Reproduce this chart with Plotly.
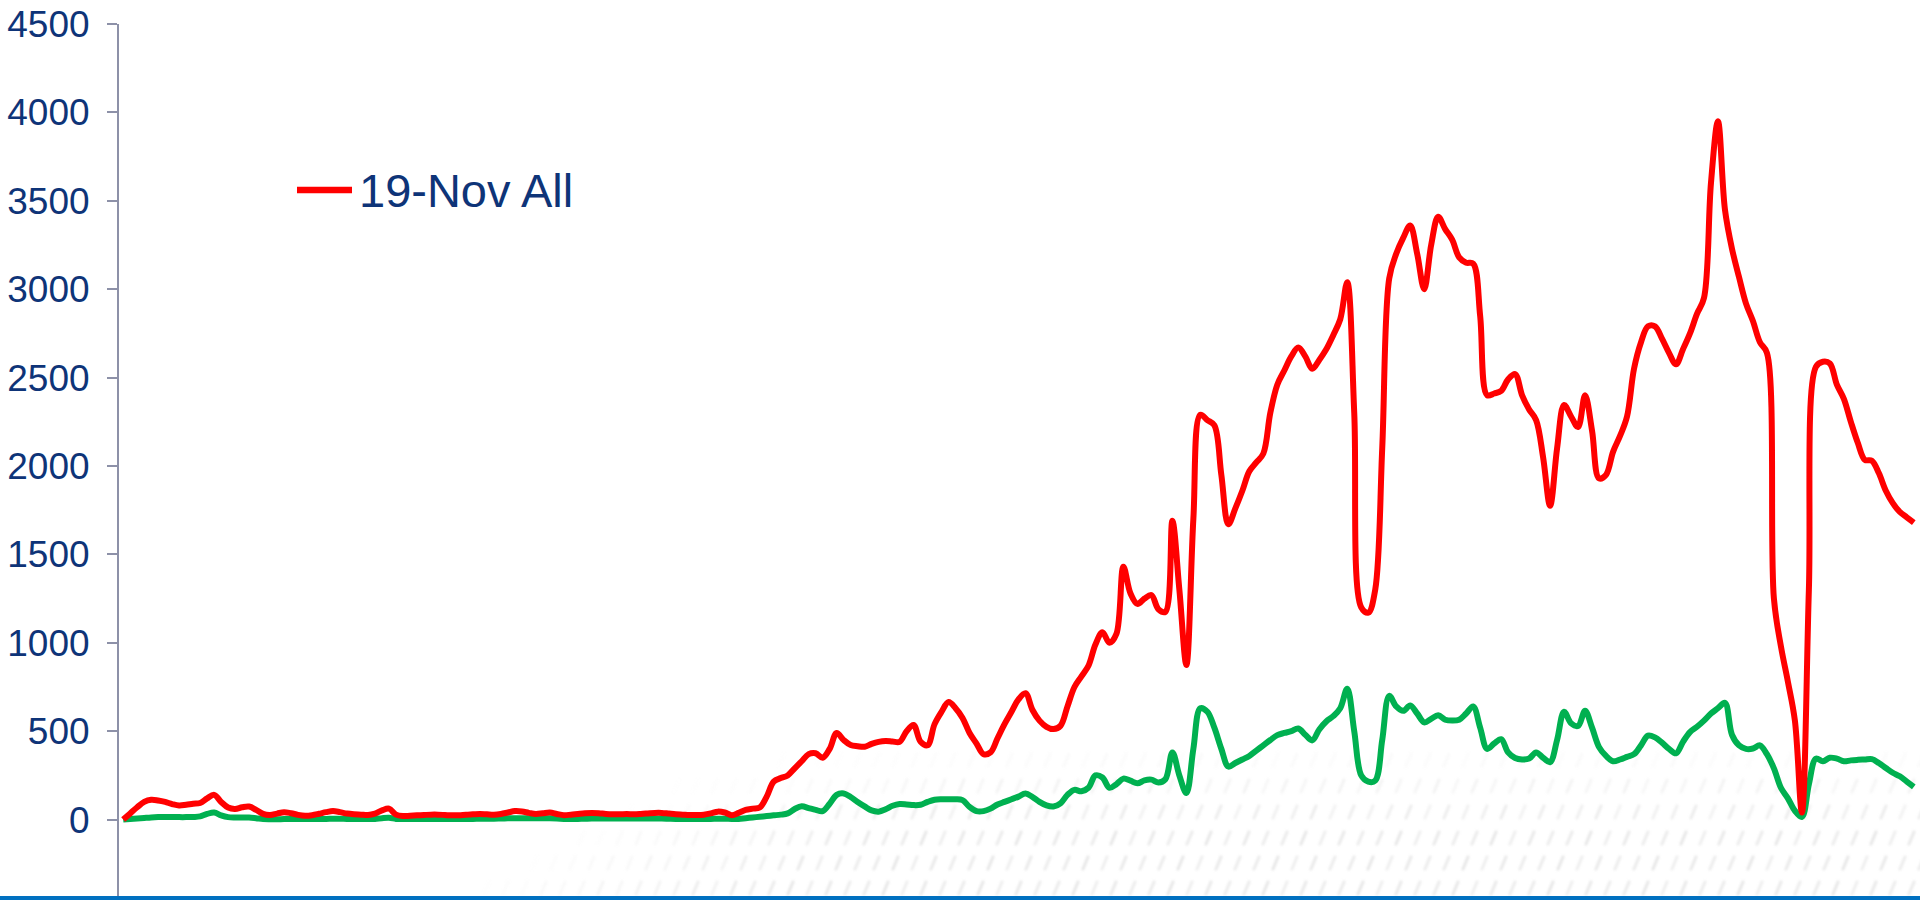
import base64
import plotly.graph_objects as go

# Daily counts, one value per day
red_all = [
    0, 35, 70, 100, 112, 108, 100, 88, 80, 84,
    90, 94, 120, 140, 100, 68, 60, 70, 74, 55,
    32, 26, 34, 42, 36, 27, 22, 25, 33, 42,
    48, 42, 34, 30, 28, 26, 34, 52, 62, 28,
    20, 22, 24, 26, 28, 28, 26, 24, 25, 28,
    30, 32, 30, 28, 32, 40, 48, 46, 38, 32,
    36, 40, 32, 25, 28, 32, 36, 38, 36, 32,
    30, 30, 31, 30, 32, 35, 38, 38, 34, 30,
    28, 26, 26, 28, 35, 45, 40, 25, 38, 55,
    62, 68, 130, 215, 235, 250, 290, 330, 370, 375,
    350, 400, 490, 450, 422, 415, 412, 428, 440, 445,
    442, 440, 500, 535, 440, 420, 540, 610, 665, 630,
    575, 490, 430, 370, 380, 460, 540, 610, 680, 715,
    620, 560, 525, 512, 530, 640, 750, 810, 870, 990,
    1060, 1000, 1050, 1430, 1280, 1220, 1250, 1270, 1190, 1175,
    1690, 1300, 875, 1700, 2290, 2260, 2230, 1950, 1670, 1760,
    1860, 1970, 2020, 2070, 2300, 2460, 2540, 2620, 2670, 2620,
    2550, 2600, 2660, 2740, 2830, 3040, 2300, 1200, 1170, 1300,
    2100, 3060, 3200, 3290, 3360, 3200, 3000, 3250, 3410, 3340,
    3280, 3180, 3150, 3145, 2850, 2400, 2410, 2425, 2490, 2520,
    2400, 2320, 2260, 2050, 1775, 2100, 2345, 2280, 2220, 2400,
    2200, 1930, 1950, 2080, 2170, 2280, 2550, 2700, 2790, 2790,
    2720, 2640, 2575, 2660, 2750, 2860, 2950, 3600, 3950, 3450,
    3230, 3070, 2920, 2820, 2700, 2640, 1250, 980, 780, 560,
    40, 1300, 2560, 2590, 2580, 2460, 2380, 2250, 2130, 2035,
    2030, 1960, 1860, 1790, 1740, 1710, 1680,
]

green_subset = [
    0, 3, 6, 9, 12, 14, 15, 15, 14, 14,
    15, 18, 32, 40, 24, 14, 12, 12, 12, 8,
    3, 2, 2, 3, 3, 3, 4, 4, 4, 4,
    5, 5, 4, 4, 3, 3, 4, 8, 10, 4,
    3, 3, 3, 3, 3, 4, 4, 4, 4, 4,
    4, 5, 5, 5, 6, 7, 8, 8, 7, 7,
    7, 7, 6, 4, 3, 4, 5, 6, 6, 6,
    6, 6, 6, 6, 6, 6, 6, 6, 5, 4,
    4, 4, 4, 4, 4, 5, 5, 4, 4, 8,
    12, 16, 20, 24, 28, 35, 60, 75, 65, 55,
    48, 90, 140, 148, 128, 100, 75, 52, 45, 58,
    78, 88, 86, 82, 84, 100, 112, 115, 115, 115,
    110, 72, 48, 48, 62, 85, 100, 115, 130, 148,
    128, 100, 80, 74, 92, 140, 168, 160, 180, 250,
    238, 180, 200, 232, 220, 205, 222, 226, 210, 228,
    380, 250, 150, 400, 630, 610, 520, 400, 300, 320,
    340, 360, 390, 420, 450, 478, 490, 500, 515, 480,
    448, 510, 555, 585, 630, 740, 500, 250, 215, 220,
    450, 700, 640, 615, 645, 600, 550, 570, 590, 565,
    560, 565, 600, 640, 520, 400, 430, 455, 380, 348,
    340, 345, 380, 350, 325, 450, 610, 545, 530, 615,
    520, 410, 360, 330, 340, 355, 370, 420, 475, 465,
    435, 400, 375, 440, 495, 525, 560, 600, 630, 660,
    480, 420, 400, 402, 420, 370, 290, 180, 120, 50,
    15, 200, 345, 330, 350, 345, 330, 335, 338, 340,
    342, 320, 292, 265, 245, 215, 185,
]

days = list(range(len(red_all)))
y_ticks = [0, 500, 1000, 1500, 2000, 2500, 3000, 3500, 4000, 4500]

NAVY = "#0E3478"
AXIS_GREY = "#8D91A8"
FONT = "Liberation Sans, Arial, sans-serif"

W, H = 1920, 900
L, R, T, B = 119, 2, 24, 0
plot_w = W - L - R
plot_h = H - T - B


def hatch_texture():
    """Faint slanted-dash backdrop along the lower right of the slide."""
    rows = [760, 786, 812, 838, 863, 888]
    marks = []
    for r, y in enumerate(rows):
        left = 430 + (900 - y) * 1.9
        vfade = min(1.0, max(0.0, (y - 740) / 90.0))
        x = 9 if r % 2 else 0
        k = 0
        while x < W:
            hfade = min(1.0, max(0.0, (x - left) / 320.0))
            # slight irregularity along each row
            jitter = (0.85, 1.0, 0.7, 0.95, 0.8)[(k + r) % 5]
            a = 0.5 * hfade * vfade * jitter
            if a > 0.02:
                marks.append(
                    f'<line x1="{x:.0f}" y1="{y + 6}" x2="{x + 5:.0f}" y2="{y - 6}" '
                    f'stroke="#d2d2d2" stroke-width="3.2" stroke-linecap="round" '
                    f'opacity="{a:.2f}"/>'
                )
            x += 19
            k += 1
    svg = (
        f'<svg xmlns="http://www.w3.org/2000/svg" width="{W}" height="{H}" '
        f'viewBox="0 0 {W} {H}"><defs><filter id="b"><feGaussianBlur stdDeviation="1.1"/>'
        f'</filter></defs><g filter="url(#b)">{"".join(marks)}</g></svg>'
    )
    return "data:image/svg+xml;base64," + base64.b64encode(svg.encode()).decode()


fig = go.Figure()

fig.add_trace(go.Scatter(
    x=days, y=green_subset, mode="lines", name="Subset",
    line=dict(color="#00B050", width=6, shape="spline", smoothing=1.0),
    showlegend=False,
))
fig.add_trace(go.Scatter(
    x=days, y=red_all, mode="lines", name="19-Nov All",
    line=dict(color="#FF0000", width=6, shape="spline", smoothing=1.0),
    showlegend=False,
))

# x range padded so the first and last day sit just inside the plot edges
pad = 0.6
y_top = 4500
px_per_unit = 88.4 / 500
y_bottom = y_top - plot_h / px_per_unit

fig.update_xaxes(
    range=[days[0] - pad, days[-1] + pad],
    showgrid=False, zeroline=False, showline=False,
    showticklabels=False, ticks="",
)
fig.update_yaxes(
    range=[y_bottom, y_top],
    tickvals=y_ticks, ticktext=[str(v) for v in y_ticks],
    showgrid=False, zeroline=False,
    showline=True, linecolor=AXIS_GREY, linewidth=2,
    ticks="outside", ticklen=10, tickwidth=2, tickcolor=AXIS_GREY,
    tickfont=dict(family=FONT, size=37, color=NAVY),
    ticklabelstandoff=10,
)

# legend key drawn as a short line plus label
leg_y = 1 - (190 - T) / plot_h
fig.add_shape(
    type="line", xref="paper", yref="paper",
    x0=(297 - L) / plot_w, x1=(352 - L) / plot_w, y0=leg_y, y1=leg_y,
    line=dict(color="#FF0000", width=6.5),
)
fig.add_annotation(
    xref="paper", yref="paper", x=(357 - L) / plot_w, y=leg_y,
    xanchor="left", yanchor="middle", showarrow=False,
    text="19-Nov All", font=dict(family=FONT, size=47, color=NAVY),
)

# slide footer bar
fig.add_shape(
    type="rect", xref="paper", yref="paper",
    x0=-L / plot_w, x1=(W - L) / plot_w, y0=-B / plot_h, y1=4 / plot_h,
    line=dict(width=0), fillcolor="#0070C0", layer="above",
)

fig.add_layout_image(
    source=hatch_texture(), xref="paper", yref="paper",
    x=-L / plot_w, y=(plot_h + T) / plot_h, sizex=W / plot_w, sizey=H / plot_h,
    xanchor="left", yanchor="top", sizing="stretch", layer="below",
)

fig.update_layout(
    width=W, height=H, autosize=False,
    margin=dict(l=L, r=R, t=T, b=B, pad=0),
    paper_bgcolor="white", plot_bgcolor="rgba(0,0,0,0)",
    showlegend=False,
)

fig.write_html("out.html")
